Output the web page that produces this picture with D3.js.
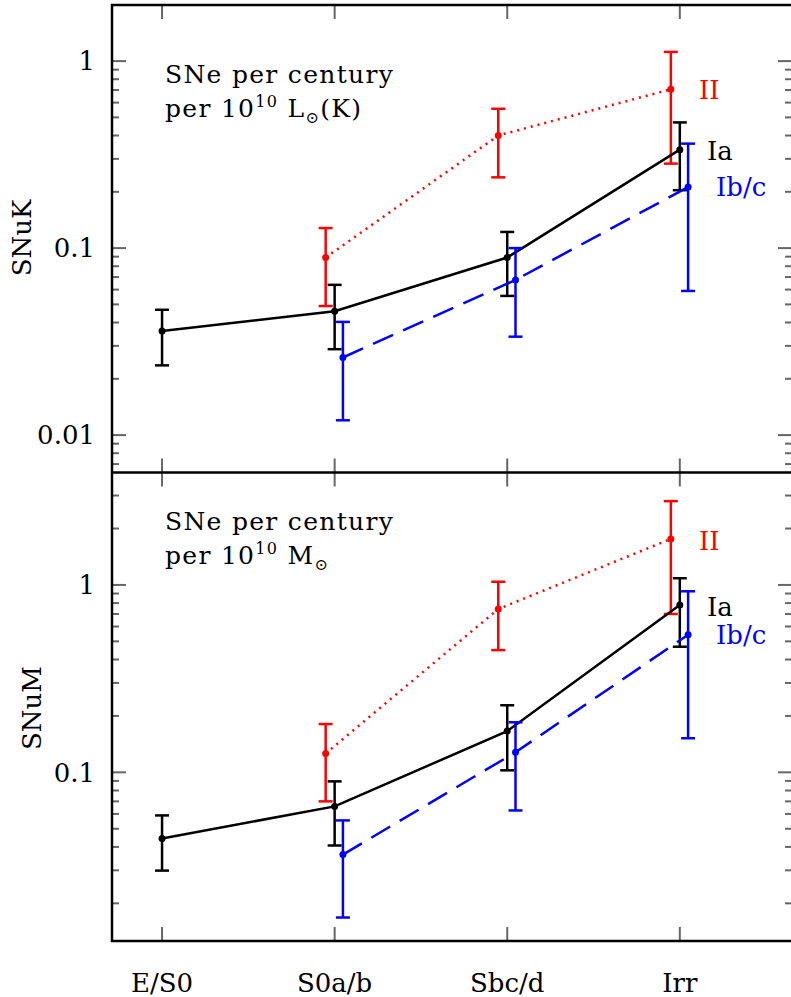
<!DOCTYPE html>
<html>
<head>
<meta charset="utf-8">
<script src="https://cdn.jsdelivr.net/npm/d3@7"></script>
<style>
  body { margin: 0; background: #fff; }
  svg { display: block; }
  text { font-family: "DejaVu Serif", serif; }
</style>
</head>
<body>
<svg id="chart" width="791" height="997"></svg>
<script>
// categories along the x axis
const categories= ['E/S0', 'S0a/b', 'Sbc/d', 'Irr'];

// SNuK: SNe per century per 1e10 Lsun(K)
const snukIa=     [0.036, 0.046, 0.089, 0.336];
const snukIaLo=   [0.0236, 0.0288, 0.0555, 0.204];
const snukIaHi=   [0.0468, 0.0636, 0.122, 0.47];
const snukII=     [null, 0.089, 0.40, 0.707];
const snukIILo=   [null, 0.049, 0.239, 0.283];
const snukIIHi=   [null, 0.128, 0.556, 1.12];
const snukIbc=    [null, 0.026, 0.0676, 0.212];
const snukIbcLo=  [null, 0.012, 0.0336, 0.059];
const snukIbcHi=  [null, 0.0403, 0.100, 0.362];

// SNuM: SNe per century per 1e10 Msun
const snumIa=     [0.0444, 0.0658, 0.166, 0.782];
const snumIaLo=   [0.0299, 0.0407, 0.1025, 0.468];
const snumIaHi=   [0.0589, 0.0895, 0.228, 1.086];
const snumII=     [null, 0.126, 0.744, 1.76];
const snumIILo=   [null, 0.070, 0.449, 0.70];
const snumIIHi=   [null, 0.181, 1.04, 2.80];
const snumIbc=    [null, 0.0364, 0.128, 0.542];
const snumIbcLo=  [null, 0.0168, 0.0626, 0.152];
const snumIbcHi=  [null, 0.0554, 0.185, 0.925];

const topTicks= [0.01, 0.1, 1];
const topTickLabels= ['0.01', '0.1', '1'];
const botTicks= [0.1, 1];
const botTickLabels= ['0.1', '1'];

const svg= d3.select('#chart');
const X0= 112, X1= 792;
const Y0= 5, YM= 472.5, Y1= 941;
const TICK= 14, MINOR= 7;

const x= d3.scaleLinear().domain([0.71, 4.65]).range([X0, X1]);

const panels= [
  {
    y: d3.scaleLog().domain([Math.pow(10, -2.2), Math.pow(10, 0.3)]).range([YM, Y0]),
    top: Y0, bottom: YM,
    ticks: topTicks, labels: topTickLabels,
    name: 'SNuK', nameX: 22, nameY: 238,
    unit: 'L', unitTail: '(K)', textY: 83,
    series: [
      {v: snukII, lo: snukIILo, hi: snukIIHi, color: '#ff0000', dash: '2,5', off: -0.052, label: 'II', lx: 699, ly: 99},
      {v: snukIa, lo: snukIaLo, hi: snukIaHi, color: '#000000', dash: null, off: 0, label: 'Ia', lx: 707, ly: 160},
      {v: snukIbc, lo: snukIbcLo, hi: snukIbcHi, color: '#0000ff', dash: '22,11', off: 0.048, label: 'Ib/c', lx: 716, ly: 196}
    ]
  },
  {
    y: d3.scaleLog().domain([Math.pow(10, -1.9), Math.pow(10, 0.6)]).range([Y1, YM]),
    top: YM, bottom: Y1,
    ticks: botTicks, labels: botTickLabels,
    name: 'SNuM', nameX: 32, nameY: 708,
    unit: 'M', unitTail: '', textY: 530,
    series: [
      {v: snumII, lo: snumIILo, hi: snumIIHi, color: '#ff0000', dash: '2,5', off: -0.052, label: 'II', lx: 699, ly: 550},
      {v: snumIa, lo: snumIaLo, hi: snumIaHi, color: '#000000', dash: null, off: 0, label: 'Ia', lx: 707, ly: 616},
      {v: snumIbc, lo: snumIbcLo, hi: snumIbcHi, color: '#0000ff', dash: '22,11', off: 0.048, label: 'Ib/c', lx: 716, ly: 644}
    ]
  }
];

panels.forEach(p => {
  const g= svg.append('g');
  const y= p.y;

  // y ticks, both sides
  const all= y.ticks().filter(t => y(t) >= p.top - 0.5 && y(t) <= p.bottom + 0.5);
  all.forEach(t => {
    const major= p.ticks.some(m => Math.abs(m - t) / m < 1e-6);
    const len= major ? TICK : MINOR;
    [[X0, X0 + len], [X1, X1 - len]].forEach(([a, b]) => {
      g.append('line')
        .attr('x1', a).attr('x2', b)
        .attr('y1', y(t)).attr('y2', y(t))
        .attr('stroke', '#666').attr('stroke-width', 2);
    });
  });
  p.ticks.forEach((t, i) => {
    g.append('text')
      .attr('x', 95).attr('y', y(t))
      .attr('dy', '0.36em')
      .attr('text-anchor', 'end')
      .attr('font-size', 26)
      .text(p.labels[i]);
  });

  // x ticks at top and bottom of each panel
  categories.forEach((c, i) => {
    const xx= x(i+1);
    g.append('line').attr('x1', xx).attr('x2', xx)
      .attr('y1', p.top).attr('y2', p.top + TICK)
      .attr('stroke', '#666').attr('stroke-width', 2);
    g.append('line').attr('x1', xx).attr('x2', xx)
      .attr('y1', p.bottom).attr('y2', p.bottom - TICK)
      .attr('stroke', '#666').attr('stroke-width', 2);
  });

  // axis name
  g.append('text')
    .attr('transform', `translate(${p.nameX},${p.nameY}) rotate(-90)`)
    .attr('text-anchor', 'middle')
    .attr('dy', '0.36em')
    .attr('font-size', 26)
    .text(p.name);

  // annotation text
  g.append('text').attr('x', 165).attr('y', p.textY)
    .attr('font-size', 25).attr('letter-spacing', 1.3)
    .text('SNe per century');
  const t2= g.append('text').attr('x', 165).attr('y', p.textY + 34)
    .attr('font-size', 25).attr('letter-spacing', 1.3);
  t2.append('tspan').text('per 10');
  t2.append('tspan').attr('dy', -10).attr('font-size', 16).text('10');
  t2.append('tspan').attr('dy', 10).text(' ' + p.unit);
  t2.append('tspan').attr('dy', 6).attr('font-size', 16).text('\u2299');
  t2.append('tspan').attr('dy', -6).text(p.unitTail);

  // series
  p.series.forEach(s => {
    const pts= s.v.map((v, i) => ({i, v, lo: s.lo[i], hi: s.hi[i]})).filter(d => d.v != null);
    const line= d3.line()
      .x(d => x(d.i + 1 + s.off))
      .y(d => y(d.v));
    g.append('path')
      .attr('d', line(pts))
      .attr('fill', 'none')
      .attr('stroke', s.color)
      .attr('stroke-width', 2.5)
      .attr('stroke-dasharray', s.dash);
    pts.forEach(d => {
      const xx= x(d.i + 1 + s.off);
      g.append('line').attr('x1', xx).attr('x2', xx)
        .attr('y1', y(d.lo)).attr('y2', y(d.hi))
        .attr('stroke', s.color).attr('stroke-width', 2.5);
      [d.lo, d.hi].forEach(e => {
        g.append('line').attr('x1', xx - 7).attr('x2', xx + 7)
          .attr('y1', y(e)).attr('y2', y(e))
          .attr('stroke', s.color).attr('stroke-width', 2.5);
      });
      g.append('circle').attr('cx', xx).attr('cy', y(d.v)).attr('r', 3.5)
        .attr('fill', s.color);
    });
    g.append('text').attr('x', s.lx).attr('y', s.ly)
      .attr('font-size', 26).attr('fill', s.color)
      .text(s.label);
  });
});

// frame
svg.append('path')
  .attr('d', `M${X1},${Y0}H${X0}V${Y1}H${X1}M${X0},${YM}H${X1}`)
  .attr('fill', 'none').attr('stroke', '#000').attr('stroke-width', 2.5);

// category labels
svg.selectAll('text.cat').data(categories).enter().append('text')
  .attr('class', 'cat')
  .attr('x', (d, i) => x(i+1))
  .attr('y', 992)
  .attr('text-anchor', 'middle')
  .attr('font-size', 26)
  .text(d => d);
</script>
</body>
</html>
